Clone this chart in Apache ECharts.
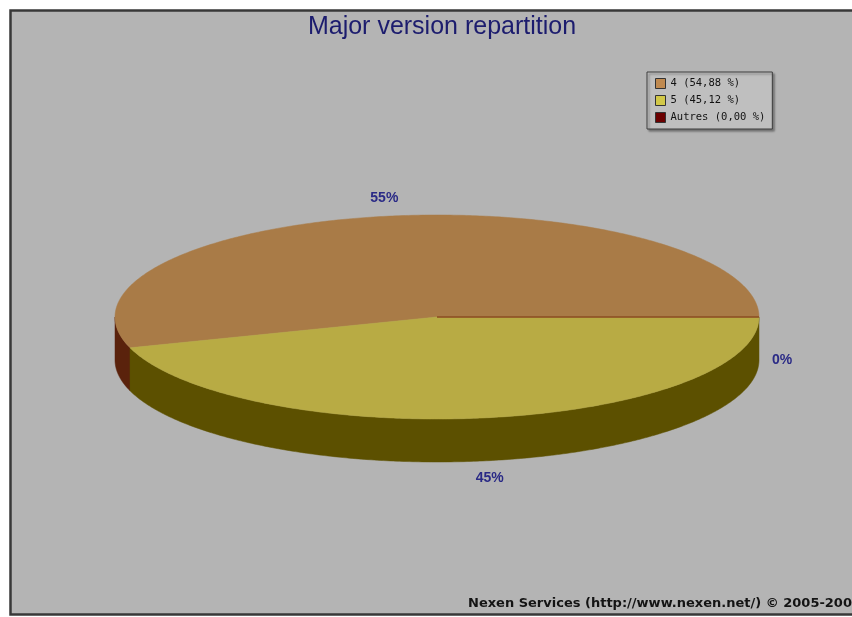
<!DOCTYPE html>
<html>
<head>
<meta charset="utf-8">
<script src="https://cdn.jsdelivr.net/npm/echarts@6/dist/echarts.min.js"></script>
<style>
html,body{margin:0;padding:0;background:#fff;}
#c{width:852px;height:617px;}
</style>
</head>
<body>
<div id="c"></div>
<script>
// ---- data ----
const categories = ['4', '5', 'Autres'];
const shares = [54.88, 45.12, 0.00];          // percent of total
const topColors = ['#a97b47', '#b8ab44', '#6b0000'];
const sideColors = ['#5a220c', '#5c5000', '#3a0000'];
const legendColors = ['#c08a50', '#d2c848', '#6b0000'];
const titleText = 'Major version repartition';
const footerText = 'Nexen Services (http://www.nexen.net/) \u00a9 2005-2008';

// ---- geometry of the 3D pie ----
const CX = 437, CY = 317, RX = 322, RY = 102, DEPTH = 43;

function fmt(v) { return v.toFixed(2).replace('.', ','); }
const legendNames = categories.map((c, i) => c + ' (' + fmt(shares[i]) + ' %)');

const total = shares.reduce((a, b) => a + b, 0);
const starts = [];
let acc = 0;
shares.forEach(s => { starts.push(acc); acc += s; });

function pt(theta, dy) {
  return [CX + RX * Math.cos(theta), CY - RY * Math.sin(theta) + (dy || 0)];
}
function arcPoints(a0, a1, dy) {
  const pts = [];
  const n = Math.max(2, Math.ceil(Math.abs(a1 - a0) / 0.01));
  for (let k = 0; k <= n; k++) pts.push(pt(a0 + (a1 - a0) * k / n, dy));
  return pts;
}

function makeRender(i) {
  return function (params, api) {
    const start = api.value(0), share = api.value(1);
    const a0 = start / total * Math.PI * 2;
    const a1 = (start + share) / total * Math.PI * 2;
    const children = [];
    // side wall (only the part on the front/lower half)
    const s0 = Math.max(a0, Math.PI), s1 = Math.min(a1, Math.PI * 2);
    if (s1 > s0) {
      const upper = arcPoints(s0, s1, 0);
      const lower = arcPoints(s1, s0, DEPTH);
      children.push({
        type: 'polygon', z2: 1,
        shape: { points: upper.concat(lower) },
        style: { fill: sideColors[i], stroke: sideColors[i], lineWidth: 0.5 }
      });
    }
    // top face
    const top = [[CX, CY]].concat(arcPoints(a0, a1, 0));
    children.push({
      type: 'polygon', z2: share > 0 ? 10 : 11,
      shape: { points: top },
      style: { fill: topColors[i], stroke: share > 0 ? topColors[i] : '#8a4a22', lineWidth: share > 0 ? 0.5 : 1.5 }
    });
    // percentage label
    const mid = (a0 + a1) / 2;
    const sn = Math.sin(mid);
    const lx = CX + Math.cos(mid) * (RX + 23);
    const ly = CY - sn * (RY + 18) + (sn <= 1e-9 ? DEPTH : 0);
    children.push({
      type: 'text', z2: 20,
      style: {
        x: lx, y: ly, text: Math.round(share / total * 100) + '%',
        fill: '#2a2a86', font: 'bold 14px "Liberation Sans", Arial, sans-serif',
        align: 'center', verticalAlign: 'middle'
      }
    });
    return { type: 'group', children: children };
  };
}

const series = categories.map((c, i) => ({
  type: 'custom',
  name: legendNames[i],
  coordinateSystem: 'none',
  silent: true,
  animation: false,
  itemStyle: { color: legendColors[i] },
  data: [[starts[i], shares[i]]],
  renderItem: makeRender(i)
}));

const chart = echarts.init(document.getElementById('c'), null, { renderer: 'canvas' });
chart.setOption({
  backgroundColor: '#ffffff',
  animation: false,
  title: {
    text: titleText,
    left: 437, top: 10, textAlign: 'center',
    textStyle: { color: '#1c1c6e', fontSize: 25, fontWeight: 'normal', fontFamily: '"Liberation Sans", Arial, sans-serif' }
  },
  legend: {
    orient: 'vertical',
    left: 647, top: 72,
    padding: [6, 7, 6, 8],
    itemGap: 6,
    itemWidth: 10, itemHeight: 10,
    icon: 'rect',
    backgroundColor: '#bfbfbf',
    borderColor: '#3c3c3c', borderWidth: 1,
    shadowColor: 'rgba(0,0,0,0.35)', shadowOffsetX: 2, shadowOffsetY: 2, shadowBlur: 2,
    itemStyle: { borderColor: '#333', borderWidth: 1 },
    textStyle: { color: '#111', fontSize: 10.5, fontFamily: '"DejaVu Sans Mono", monospace' },
    selectedMode: false,
    data: legendNames.map((n, i) => ({ name: n, itemStyle: { color: legendColors[i] } }))
  },
  graphic: [
    {
      type: 'rect', z: -10, silent: true,
      shape: { x: 10.5, y: 10.5, width: 860, height: 604 },
      style: { fill: '#b4b4b4', stroke: '#383838', lineWidth: 2.5 }
    },
    {
      type: 'text', z: 5, silent: true,
      left: 468, top: 597,
      style: { text: footerText, fill: '#141414', font: 'bold 13px "DejaVu Sans", Verdana, sans-serif' }
    }
  ],
  series: series
});
</script>
</body>
</html>
